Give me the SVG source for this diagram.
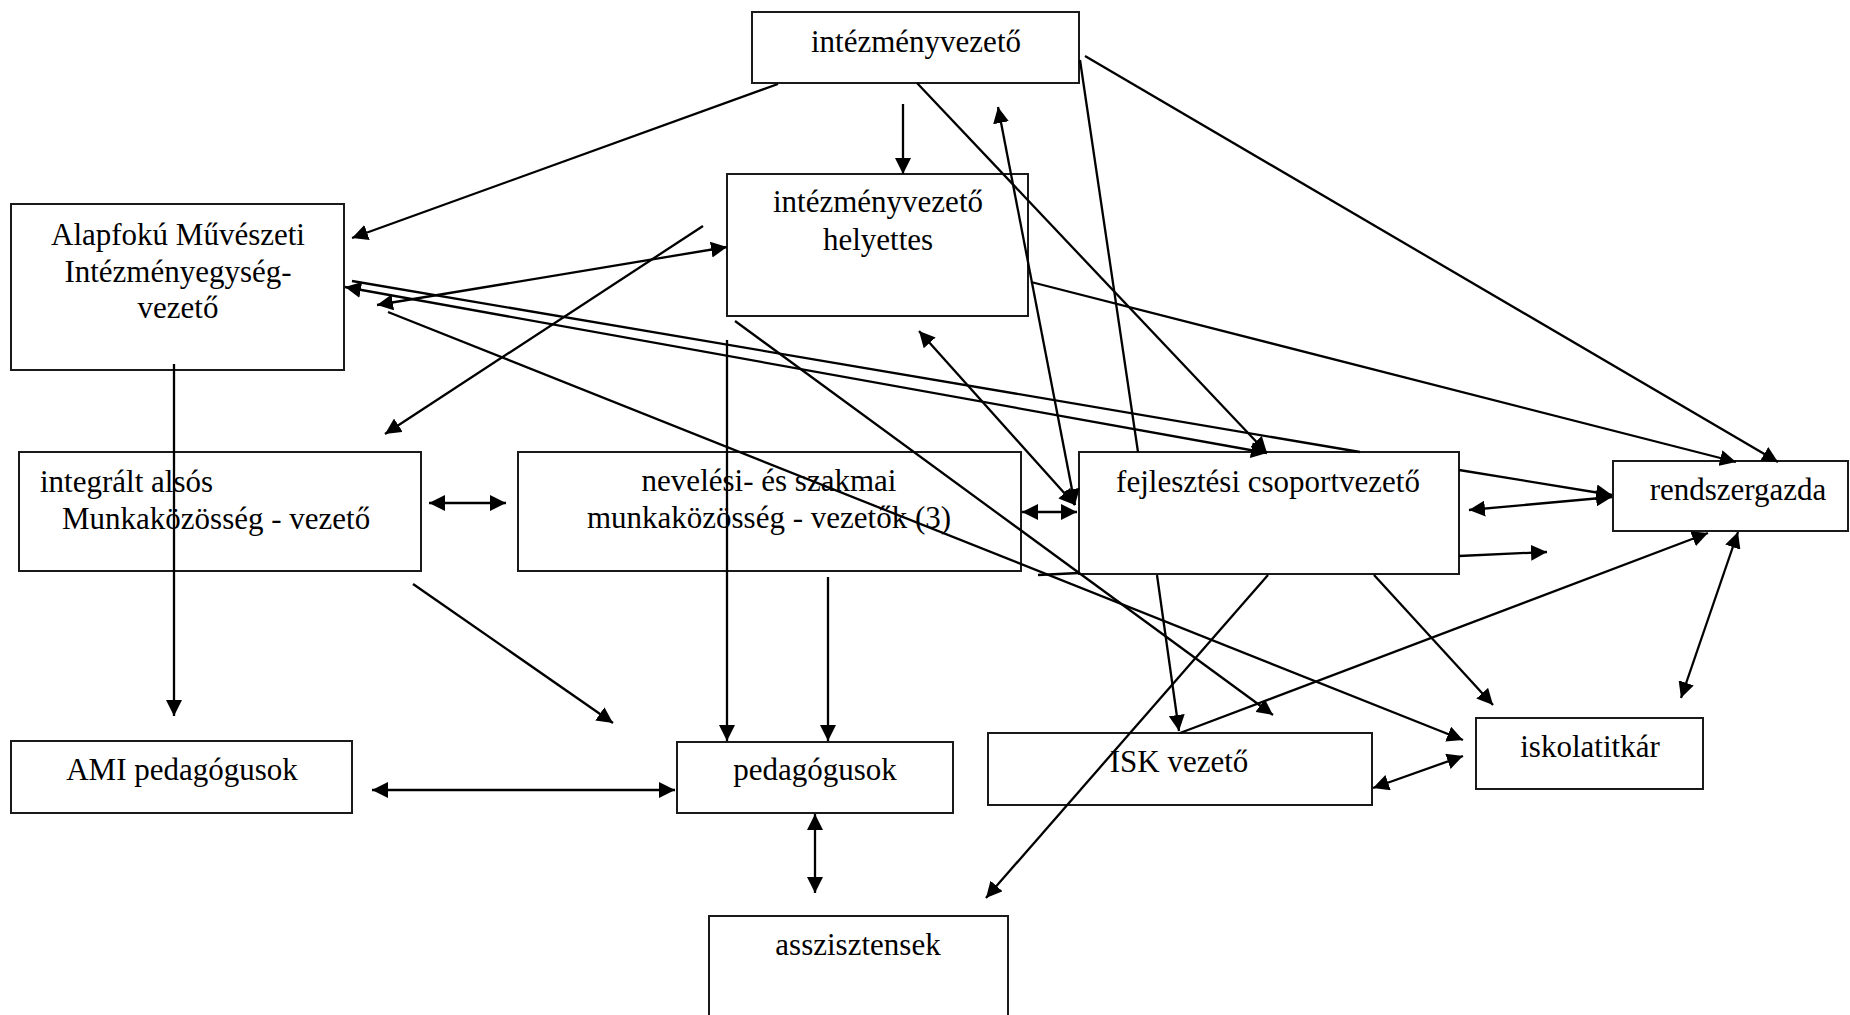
<svg xmlns="http://www.w3.org/2000/svg" width="1850" height="1015" viewBox="0 0 1850 1015">
<style>
.box{fill:none;stroke:#1a1a1a;stroke-width:2}
.t{font-family:"Liberation Serif","Times New Roman",serif;font-size:31px;fill:#000;text-anchor:middle}
.ts{text-anchor:start}
.c line{stroke:#000;stroke-width:2.3}
.e{marker-end:url(#ah)}
.b{marker-start:url(#ah);marker-end:url(#ah)}
</style>
<defs>
<marker id="ah" markerUnits="userSpaceOnUse" markerWidth="17" markerHeight="16" refX="16" refY="8" orient="auto-start-reverse" viewBox="0 0 17 16">
<path d="M0,0 L16,8 L0,16 z" fill="#000"/>
</marker>
</defs>
<rect width="1850" height="1015" fill="#fff"/>
<g id="intezmenyvezeto"><rect class="box" x="752" y="12" width="327" height="71"/><text class="t" x="916" y="52">intézményvezető</text></g>
<g id="helyettes"><rect class="box" x="727" y="174" width="301" height="142"/><text class="t" x="878" y="212">intézményvezető</text><text class="t" x="878" y="250">helyettes</text></g>
<g id="ami-vezeto"><rect class="box" x="11" y="204" width="333" height="166"/><text class="t" x="178" y="245">Alapfokú Művészeti</text><text class="t" x="178" y="282">Intézményegység-</text><text class="t" x="178" y="318">vezető</text></g>
<g id="integralt"><rect class="box" x="19" y="452" width="402" height="119"/><text class="t ts" x="40" y="492">integrált alsós</text><text class="t ts" x="62" y="529">Munkaközösség - vezető</text></g>
<g id="neveles"><rect class="box" x="518" y="452" width="503" height="119"/><text class="t" x="769" y="491">nevelési- és szakmai</text><text class="t" x="769" y="528">munkaközösség - vezetők (3)</text></g>
<g id="fejlesztesi"><rect class="box" x="1079" y="452" width="380" height="122"/><text class="t" x="1268" y="492">fejlesztési csoportvezető</text></g>
<g id="rendszergazda"><rect class="box" x="1613" y="461" width="235" height="70"/><text class="t" x="1738" y="500">rendszergazda</text></g>
<g id="ami-pedagogusok"><rect class="box" x="11" y="741" width="341" height="72"/><text class="t" x="182" y="780">AMI pedagógusok</text></g>
<g id="pedagogusok"><rect class="box" x="677" y="742" width="276" height="71"/><text class="t" x="815" y="780">pedagógusok</text></g>
<g id="isk-vezeto"><rect class="box" x="988" y="733" width="384" height="72"/><text class="t" x="1179" y="772">ISK vezető</text></g>
<g id="iskolatitkar"><rect class="box" x="1476" y="718" width="227" height="71"/><text class="t" x="1590" y="757">iskolatitkár</text></g>
<g id="asszisztensek"><rect class="box" x="709" y="916" width="299" height="110"/><text class="t" x="858" y="955">asszisztensek</text></g>
<g id="connectors" class="c">
<line class="e" x1="778" y1="84" x2="352" y2="238"/>
<line class="e" x1="903" y1="104" x2="903" y2="174"/>
<line class="e" x1="917" y1="83" x2="1267" y2="453"/>
<line x1="1080" y1="60" x2="1138" y2="452"/>
<line class="e" x1="1085" y1="56" x2="1778" y2="462"/>
<line class="e" x1="1031" y1="282" x2="1736" y2="462"/>
<line class="b" x1="377" y1="305" x2="727" y2="247"/>
<line class="e" x1="703" y1="226" x2="385" y2="434"/>
<line x1="352" y1="281" x2="1360" y2="452"/>
<line class="b" x1="345" y1="287" x2="1267" y2="453"/>
<line class="e" x1="388" y1="312" x2="1463" y2="740"/>
<line class="e" x1="735" y1="321" x2="1273" y2="715"/>
<line class="e" x1="727" y1="340" x2="727" y2="741"/>
<line class="b" x1="1075" y1="505" x2="919" y2="331"/>
<line class="b" x1="1075" y1="505" x2="998" y2="107"/>
<line class="b" x1="1022" y1="512" x2="1077" y2="512"/>
<line x1="1038" y1="575" x2="1079" y2="573"/>
<line class="e" x1="1459" y1="470" x2="1612" y2="495"/>
<line class="b" x1="1469" y1="510" x2="1612" y2="497"/>
<line class="e" x1="1459" y1="556" x2="1547" y2="552"/>
<line class="e" x1="1157" y1="575" x2="1179" y2="731"/>
<line class="e" x1="1180" y1="733" x2="1708" y2="533"/>
<line class="b" x1="1738" y1="532" x2="1681" y2="698"/>
<line class="e" x1="1374" y1="575" x2="1493" y2="705"/>
<line class="b" x1="1373" y1="788" x2="1463" y2="756"/>
<line class="e" x1="1268" y1="575" x2="986" y2="898"/>
<line class="b" x1="429" y1="503" x2="506" y2="503"/>
<line class="e" x1="174" y1="364" x2="174" y2="716"/>
<line class="b" x1="372" y1="790" x2="675" y2="790"/>
<line class="e" x1="413" y1="584" x2="613" y2="723"/>
<line class="e" x1="828" y1="577" x2="828" y2="741"/>
<line class="b" x1="815" y1="814" x2="815" y2="893"/>
</g>
</svg>
